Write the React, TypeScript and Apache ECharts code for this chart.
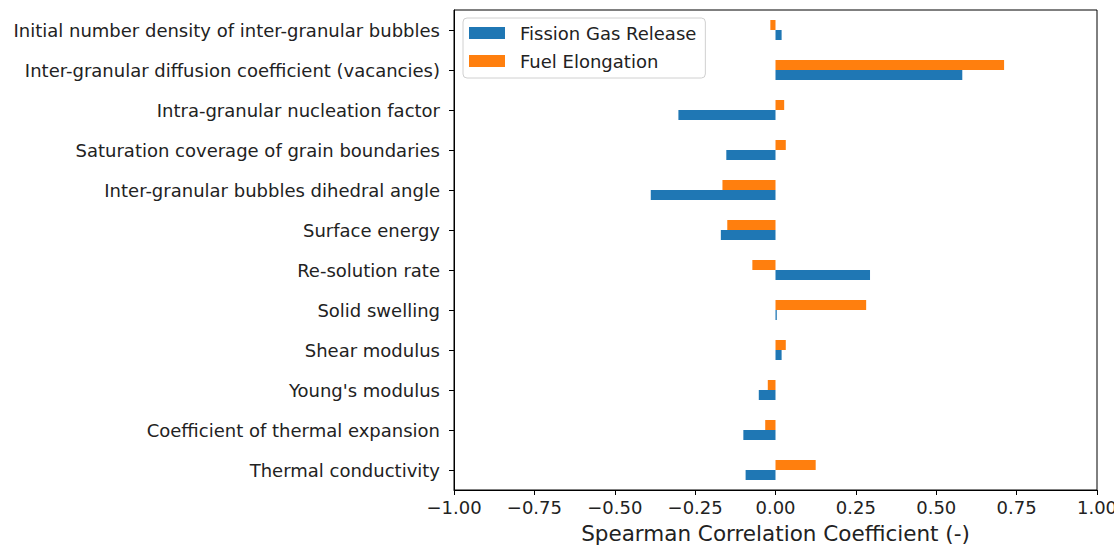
import React, { useEffect, useRef } from "react";
import * as echarts from "echarts";

// Categories listed bottom-to-top (as drawn on the y axis)
const categories = [
  "Thermal conductivity",
  "Coefficient of thermal expansion",
  "Young's modulus",
  "Shear modulus",
  "Solid swelling",
  "Re-solution rate",
  "Surface energy",
  "Inter-granular bubbles dihedral angle",
  "Saturation coverage of grain boundaries",
  "Intra-granular nucleation factor",
  "Inter-granular diffusion coefficient (vacancies)",
  "Initial number density of inter-granular bubbles",
];

const fissionGasRelease = [-0.093, -0.1, -0.052, 0.019, 0.004, 0.294, -0.17, -0.388, -0.153, -0.302, 0.581, 0.019];
const fuelElongation = [0.125, -0.032, -0.024, 0.032, 0.282, -0.072, -0.15, -0.165, 0.032, 0.027, 0.711, -0.016];

const xTicks = { min: -1, max: 1, interval: 0.25 };
const seriesNames = ["Fission Gas Release", "Fuel Elongation"];
const colors = ["#1f77b4", "#ff7f0e"];

const FONT = "DejaVu Sans";

export default function App() {
  const ref = useRef<HTMLDivElement>(null);
  useEffect(() => {
    if (!ref.current) return;
    const chart = echarts.init(ref.current, undefined, { renderer: "svg" });
    chart.setOption({
      animation: false,
      backgroundColor: "#ffffff",
      textStyle: { fontFamily: FONT },
      grid: {
        left: 454,
        right: 17,
        top: 10,
        bottom: 56,
        containLabel: false,
        outerBoundsMode: "none",
        show: true,
        borderColor: "#000",
        borderWidth: 1,
        backgroundColor: "transparent",
      },
      legend: {
        data: seriesNames,
        orient: "vertical",
        left: 463,
        top: 18,
        itemWidth: 36,
        itemHeight: 12,
        itemGap: 10,
        padding: [6, 9, 8, 6],
        backgroundColor: "#fff",
        borderColor: "#d0d0d0",
        borderWidth: 1,
        borderRadius: 4,
        icon: "rect",
        textStyle: { fontFamily: FONT, fontSize: 18, color: "#222", padding: [0, 0, 0, 10], lineHeight: 18 },
      },
      xAxis: {
        type: "value",
        min: xTicks.min,
        max: xTicks.max,
        interval: xTicks.interval,
        name: "Spearman Correlation Coefficient (-)",
        nameLocation: "middle",
        nameGap: 32,
        nameTextStyle: { fontFamily: FONT, fontSize: 21.5, color: "#222" },
        axisLine: { show: true, onZero: false, lineStyle: { color: "#000", width: 1 } },
        axisTick: { show: true, length: 5, lineStyle: { color: "#000" } },
        splitLine: { show: false },
        axisLabel: {
          fontFamily: FONT,
          fontSize: 18,
          color: "#222",
          margin: 8,
          formatter: (v: number) => v.toFixed(2).replace("-", "\u2212"),
        },
      },
      yAxis: {
        type: "category",
        data: categories,
        axisLine: { show: true, onZero: false, lineStyle: { color: "#000", width: 1 } },
        axisTick: { show: true, length: 5, alignWithLabel: true, lineStyle: { color: "#000" } },
        axisLabel: { fontFamily: FONT, fontSize: 18, color: "#222", margin: 14 },
        splitLine: { show: false },
      },
      series: [
        {
          name: seriesNames[1],
          type: "bar",
          data: fuelElongation,
          itemStyle: { color: colors[1] },
          barGap: "0%",
          barCategoryGap: "50%",
        },
        {
          name: seriesNames[0],
          type: "bar",
          data: fissionGasRelease,
          itemStyle: { color: colors[0] },
          barGap: "0%",
          barCategoryGap: "50%",
        },
      ],
    });
    return () => chart.dispose();
  }, []);
  return (
    <div
      ref={ref}
      style={{ position: "absolute", left: 0, top: 0, width: 1114, height: 546 }}
    />
  );
}
